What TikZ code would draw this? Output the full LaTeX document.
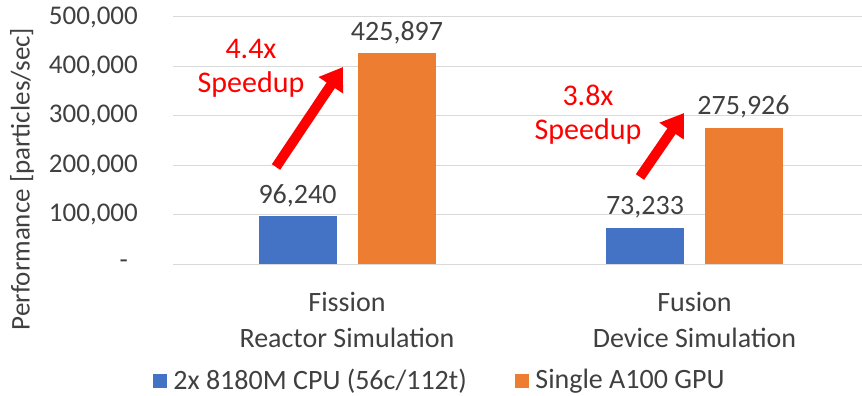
\documentclass[tikz,border=0pt]{standalone}
\usepackage{fontspec}
\setmainfont{Carlito}
\usepackage{xcolor}
\usetikzlibrary{arrows.meta,positioning}
\definecolor{cpublue}{HTML}{4472C4}
\definecolor{gpuorange}{HTML}{ED7D31}
\definecolor{txtgray}{HTML}{404040}
\definecolor{gridgray}{HTML}{D9D9D9}

\begin{document}
\begin{tikzpicture}[
  x=1pt,y=-1pt,
  font=\fontsize{28}{36}\selectfont,
  txt/.style={text=txtgray,inner sep=0pt},
  tick/.style={txt,font=\fontsize{27}{33}\selectfont,anchor=east},
  bar/.style={minimum width=78pt,inner sep=0pt,anchor=south},
  val/.style={txt,anchor=base},
  note/.style={text=red,align=center,inner sep=0pt,font=\fontsize{30}{34}\selectfont},
  speed/.style={draw=red,line width=10pt,-{Triangle[length=22pt,width=28pt]}},
  key/.style={minimum size=14pt,inner sep=0pt},
  gridline/.style={draw=gridgray,line width=1pt},
]
\useasboundingbox (0,0) rectangle (862,396);
% value axis
\foreach \k/\lab in {1/{100,000},2/{200,000},3/{300,000},4/{400,000},5/{500,000}}{
  \coordinate (g\k) at (173,264-49.4*\k);
  \draw[gridline] (g\k) -- ++(689,0);
  \node[tick] at ([xshift=-35pt]g\k) {\lab};
}
\coordinate (g0) at (173,264);
\draw[gridline] (g0) -- ++(689,0);
\node[tick] at ([xshift=-45pt]g0) {-};
\node[txt,rotate=90,font=\fontsize{27}{33}\selectfont] (ytitle) at (22,179) {Performance [particles/sec]};

% bars
\node[bar,fill=cpublue,minimum height=47.5pt] (fiscpu) at (297.5,264) {};
\node[bar,fill=gpuorange,minimum height=210.4pt] (fisgpu) at (397,264) {};
\node[bar,fill=cpublue,minimum height=36.2pt] (fuscpu) at (645,264) {};
\node[bar,fill=gpuorange,minimum height=136.3pt] (fusgpu) at (743.5,264) {};
\node[val] at ([yshift=13pt]fiscpu.north) {96,240};
\node[val] at ([yshift=13pt]fisgpu.north) {425,897};
\node[val] at ([yshift=13pt]fuscpu.north) {73,233};
\node[val] at ([yshift=13pt]fusgpu.north) {275,926};

% speedup notes
\node[note] (fisnote) at (251,68) {4.4x\\Speedup};
\coordinate (fistail) at (276,167);
\coordinate (fishead) at (343,67);
\draw[speed] (fistail) -- (fishead);
\node[note] (fusnote) at (588,115) {3.8x\\Speedup};
\coordinate (fustail) at (640,177);
\coordinate (fushead) at (684,113);
\draw[speed] (fustail) -- (fushead);

% categories and legend
\node[txt,align=center] (fiscat) at (347,320) {Fission\\Reactor Simulation};
\node[txt,align=center] (fuscat) at (694.5,320) {Fusion\\Device Simulation};
\node[key,fill=cpublue] (keycpu) at (160,381) {};
\node[txt,right=6pt of keycpu] (legcpu) {2x 8180M CPU (56c/112t)};
\node[key,fill=gpuorange] (keygpu) at (522,381) {};
\node[txt,right=6pt of keygpu] (leggpu) {Single A100 GPU};
\end{tikzpicture}
\end{document}
